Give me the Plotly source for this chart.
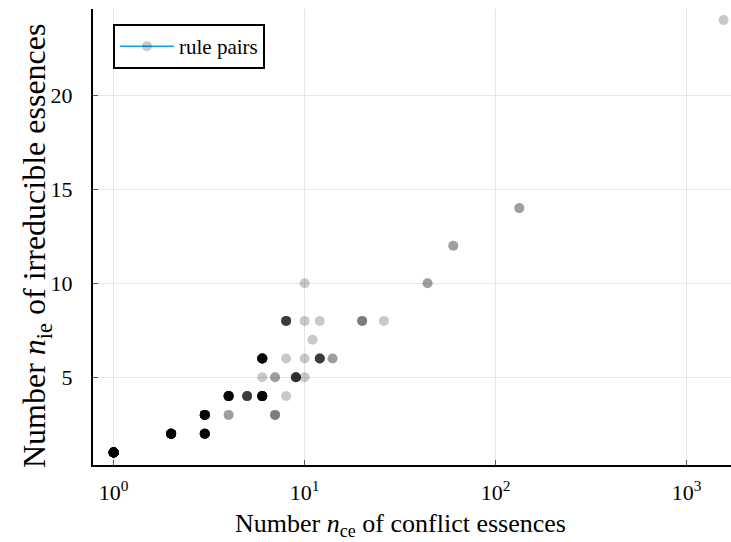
import numpy as np
import plotly.graph_objects as go

# Distinct (n_ce, n_ie) combinations and how many rule pairs share each one
n_ce = [1, 2, 3, 3, 4, 4, 5, 6, 6, 6, 7, 7, 8, 8, 8, 9, 10, 10, 10, 10,
        11, 12, 12, 14, 20, 26, 44, 60, 133, 1560]
n_ie = [1, 2, 2, 3, 3, 4, 4, 4, 5, 6, 3, 5, 4, 6, 8, 5, 5, 6, 8, 10,
        7, 6, 8, 6, 8, 8, 10, 12, 14, 24]
pair_count = [40, 25, 15, 15, 2, 15, 6, 15, 1, 15, 3, 2, 1, 1, 6, 7, 1, 1, 1, 1,
              1, 6, 1, 2, 3, 1, 2, 2, 2, 1]

x_ticks = [1, 10, 100, 1000]
x_tick_text = ["10<sup>0</sup>", "10<sup>1</sup>", "10<sup>2</sup>", "10<sup>3</sup>"]
y_ticks = [5, 10, 15, 20]

# one marker per rule pair; overlapping translucent markers darken
xs = np.repeat(n_ce, pair_count)
ys = np.repeat(n_ie, pair_count)

FONT = "Liberation Serif"
W, H = 731, 542
L, R, T, B = 93, 0, 9, 77

fig = go.Figure()
fig.add_trace(go.Scatter(
    x=xs, y=ys, mode="markers", showlegend=False,
    marker=dict(size=10, color="rgba(0,0,0,0.21)", line=dict(width=0)),
    hoverinfo="x+y",
))
# legend entry
fig.add_trace(go.Scatter(
    x=[None], y=[None], mode="lines+markers", name="rule pairs",
    line=dict(color="#0AA0FF", width=1.5),
    marker=dict(size=10, color="rgba(0,0,0,0.21)", line=dict(width=0)),
))

pw = W - L - R
ph = H - T - B

fig.update_layout(
    width=W, height=H,
    margin=dict(l=L, r=R, t=T, b=B, pad=0),
    paper_bgcolor="white", plot_bgcolor="white",
    font=dict(family=FONT, size=22, color="black"),
    showlegend=True,
    legend=dict(
        x=(113 - L) / pw, y=(H - B - 24) / ph, xanchor="left", yanchor="top",
        bordercolor="black", borderwidth=2, bgcolor="white",
        font=dict(family=FONT, size=21),
        itemwidth=54,
        tracegroupgap=0,
    ),
    xaxis=dict(
        type="log", range=[-0.108, 3.232],
        tickvals=x_ticks, ticktext=x_tick_text,
        showgrid=True, gridcolor="#e6e6e6", gridwidth=1,
        showline=True, linecolor="black", linewidth=2,
        ticks="inside", ticklen=5, tickcolor="#555", tickwidth=1,
        ticklabelstandoff=7,
        tickfont=dict(family=FONT, size=22),
        zeroline=False,
    ),
    yaxis=dict(
        range=[0.335, 24.59],
        tickvals=y_ticks,
        showgrid=True, gridcolor="#e6e6e6", gridwidth=1,
        showline=True, linecolor="black", linewidth=2,
        ticks="inside", ticklen=5, tickcolor="#555", tickwidth=1,
        ticklabelstandoff=14,
        tickfont=dict(family=FONT, size=22),
        zeroline=False,
    ),
    annotations=[
        dict(text="Number <i>n</i><sub>ce</sub> of conflict essences",
             xref="paper", yref="paper",
             x=(400 - L) / pw, y=-(525 - (H - B)) / ph,
             xanchor="center", yanchor="middle", showarrow=False,
             font=dict(family=FONT, size=26)),
        dict(text="Number <i>n</i><sub>ie</sub> of irreducible essences",
             xref="paper", yref="paper",
             x=(36 - L) / pw, y=(H - B - 246) / ph,
             xanchor="center", yanchor="middle", showarrow=False, textangle=-90,
             font=dict(family=FONT, size=32)),
    ],
)

fig.write_html("out.html")
